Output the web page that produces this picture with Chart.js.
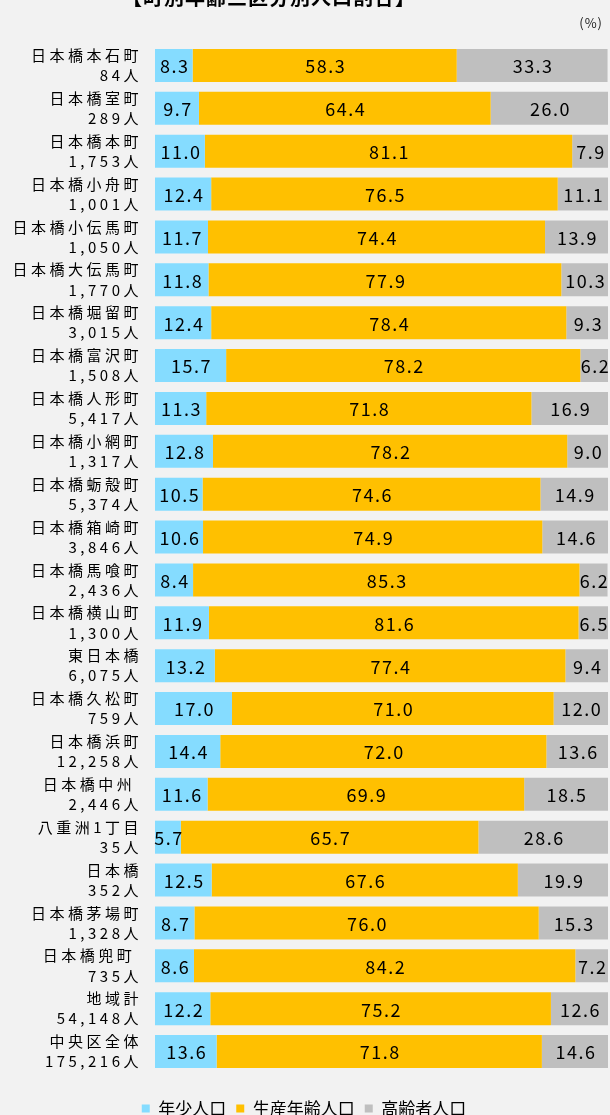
<!DOCTYPE html>
<html>
<head>
<meta charset="utf-8">
<script src="https://cdn.jsdelivr.net/npm/chart.js@4"></script>
<style>
  body { margin: 0; background: #f2f2f2; overflow: hidden; font-family: "Noto Sans CJK JP", sans-serif; }
  #wrap { position: relative; width: 610px; height: 1127px; }
  #title { position: absolute; top: -13px; left: 0; width: 538px; text-align: center; font-size: 20px; font-weight: bold; line-height: 20px; letter-spacing: 1px; }
  #unit { position: absolute; top: 13px; right: 7px; font-size: 13px; letter-spacing: 1px; color: #222; }
</style>
</head>
<body>
<div id="wrap">
  <div id="title">【町別年齢三区分別人口割合】</div>
  <div id="unit">(%)</div>
  <canvas id="myChart"></canvas>
</div>
<script>
// 町別 年齢三区分別人口割合 (100% stacked bars)

const towns = [
  "日本橋本石町", "日本橋室町", "日本橋本町", "日本橋小舟町", "日本橋小伝馬町",
  "日本橋大伝馬町", "日本橋堀留町", "日本橋富沢町", "日本橋人形町", "日本橋小網町",
  "日本橋蛎殻町", "日本橋箱崎町", "日本橋馬喰町", "日本橋横山町", "東日本橋",
  "日本橋久松町", "日本橋浜町", "日本橋中州 ", "八重洲1丁目", "日本橋",
  "日本橋茅場町", "日本橋兜町 ", "地域計", "中央区全体",
];
const population = [
  "84人", "289人", "1,753人", "1,001人", "1,050人",
  "1,770人", "3,015人", "1,508人", "5,417人", "1,317人",
  "5,374人", "3,846人", "2,436人", "1,300人", "6,075人",
  "759人", "12,258人", "2,446人", "35人", "352人",
  "1,328人", "735人", "54,148人", "175,216人",
];
const young = [8.3, 9.7, 11.0, 12.4, 11.7, 11.8, 12.4, 15.7, 11.3, 12.8, 10.5, 10.6,
  8.4, 11.9, 13.2, 17.0, 14.4, 11.6, 5.7, 12.5, 8.7, 8.6, 12.2, 13.6];
const working = [58.3, 64.4, 81.1, 76.5, 74.4, 77.9, 78.4, 78.2, 71.8, 78.2, 74.6, 74.9,
  85.3, 81.6, 77.4, 71.0, 72.0, 69.9, 65.7, 67.6, 76.0, 84.2, 75.2, 71.8];
const elderly = [33.3, 26.0, 7.9, 11.1, 13.9, 10.3, 9.3, 6.2, 16.9, 9.0, 14.9, 14.6,
  6.2, 6.5, 9.4, 12.0, 13.6, 18.5, 28.6, 19.9, 15.3, 7.2, 12.6, 14.6];

const labels = towns.map((t, i) => [t, population[i]]);

const FONT = "'Noto Sans CJK JP', sans-serif";

// draw the value in the middle of each segment
const valueLabels = {
  id: "valueLabels",
  afterDatasetsDraw(chart) {
    const ctx = chart.ctx;
    ctx.save();
    ctx.letterSpacing = "1.5px";
    ctx.font = "18px " + FONT;
    ctx.fillStyle = "#000";
    ctx.textAlign = "center";
    ctx.textBaseline = "middle";
    chart.data.datasets.forEach((ds, di) => {
      chart.getDatasetMeta(di).data.forEach((bar, i) => {
        const x = (bar.x + bar.base) / 2 + 1;
        ctx.fillText(ds.data[i].toFixed(1), x, bar.y + 1);
      });
    });
    ctx.restore();
  },
};

// wide letter spacing for the axis labels, none for the legend
const spacing = {
  id: "spacing",
  beforeDraw(chart) {
    chart.ctx.letterSpacing = "3.5px";
    const lg = chart.legend;
    if (lg && !lg._spaced) {
      const draw = lg.draw;
      lg.draw = function (area) {
        const prev = this.ctx.letterSpacing;
        this.ctx.letterSpacing = "0px";
        draw.call(this, area);
        this.ctx.letterSpacing = prev;
      };
      lg._spaced = true;
    }
  },
};

const config = {
  type: "bar",
  data: {
    labels: labels,
    datasets: [
      { label: "年少人口", data: young, backgroundColor: "rgb(133, 220, 255)" },
      { label: "生産年齢人口", data: working, backgroundColor: "#ffc000" },
      { label: "高齢者人口", data: elderly, backgroundColor: "#bfbfbf" },
    ],
  },
  options: {
    indexAxis: "y",
    responsive: true,
    maintainAspectRatio: false,
    animation: false,
    layout: { padding: { top: 44, right: 2, left: 0, bottom: 0 } },
    datasets: { bar: { barPercentage: 0.77, categoryPercentage: 1 } },
    scales: {
      x: {
        stacked: true,
        min: 0,
        max: 100,
        display: true,
        ticks: { display: false },
        grid: { display: false },
        border: { display: false },
        afterFit: (s) => { s.height = 17; },
      },
      y: {
        stacked: true,
        grid: { display: false },
        border: { display: false },
        ticks: {
          color: "#000",
          padding: 5,
          autoSkip: false,
          font: { family: FONT, size: 15, lineHeight: 1.34 },
        },
        afterFit: (s) => { s.width = 155; },
      },
    },
    plugins: {
      tooltip: { enabled: false },
      legend: {
        position: "bottom",
        labels: {
          boxWidth: 8,
          boxHeight: 8,
          padding: 10,
          color: "#000",
          font: { family: FONT, size: 17 },
        },
      },
    },
  },
  plugins: [valueLabels, spacing],
};

const chart = new Chart(document.querySelector("#myChart"), config);
</script>
</body>
</html>
